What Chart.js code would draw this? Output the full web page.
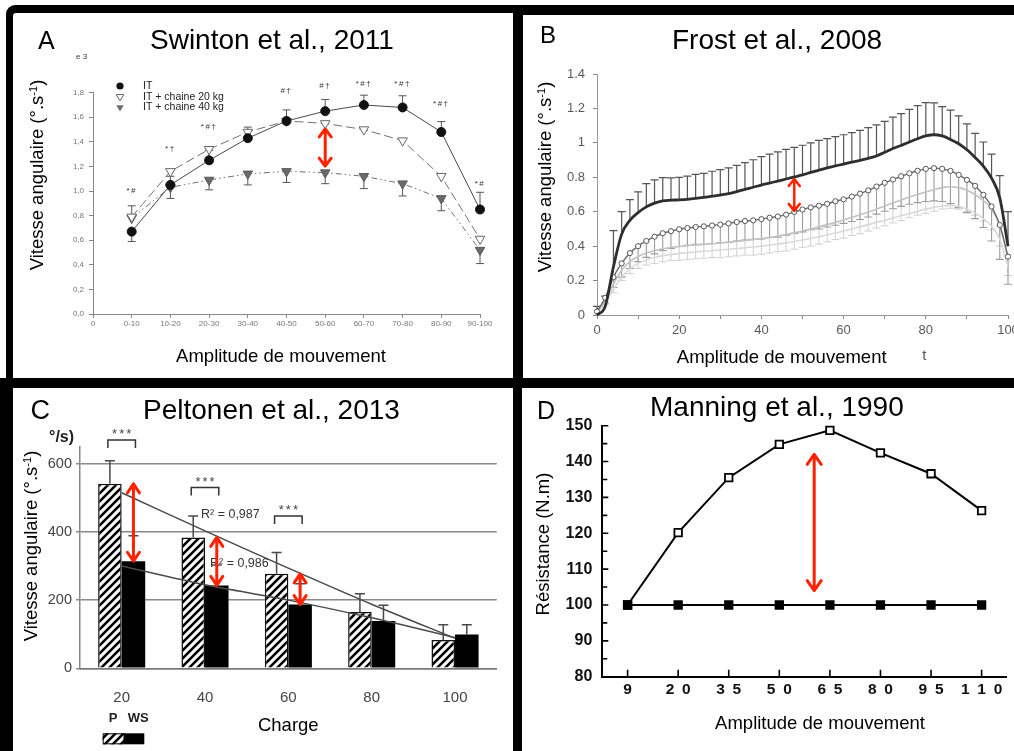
<!DOCTYPE html>
<html>
<head>
<meta charset="utf-8">
<script src="https://cdn.jsdelivr.net/npm/chart.js@4.4.1/dist/chart.umd.min.js"></script>
<style>
  html, body { margin: 0; padding: 0; width: 1014px; height: 751px; overflow: hidden; background: #fff;
    font-family: "Liberation Sans", Arial, Helvetica, sans-serif; }
  .frame { position: absolute; background: #000; }
  .panel { position: absolute; background: #fff; overflow: hidden; }
  .panel canvas { position: absolute; left: 0; top: 0; }
  .txt { position: absolute; white-space: nowrap; line-height: 1; color: #000; }
  .ctr { transform: translate(-50%, -50%); }
  .rot { transform: translate(-50%, -50%) rotate(-90deg); }
  sup { font-size: 0.6em; vertical-align: 0.55em; line-height: 0; }
</style>
</head>
<body>
<div class="frame" style="left:6px;top:5px;width:1008px;height:385px;border-top-left-radius:9px"></div>
<div class="frame" style="left:0;top:378px;width:1014px;height:373px"></div>

<div class="panel" style="left:13px;top:13px;width:500px;height:365px;border-top-left-radius:3px"><canvas id="chartA" width="500" height="365"></canvas></div>
<div class="panel" style="left:523px;top:15px;width:491px;height:363px"><canvas id="chartB" width="520" height="363"></canvas></div>
<div class="panel" style="left:13px;top:388px;width:500px;height:363px"><canvas id="chartC" width="500" height="363"></canvas></div>
<div class="panel" style="left:522px;top:388px;width:492px;height:363px"><canvas id="chartD" width="492" height="363"></canvas></div>

<!-- panel letters and titles -->
<div class="txt" style="left:38px;top:27.8px;font-size:25px">A</div>
<div class="txt" style="left:150px;top:26.3px;font-size:28px">Swinton et al., 2011</div>
<div class="txt" style="left:540px;top:22.7px;font-size:24px">B</div>
<div class="txt" style="left:672px;top:26.3px;font-size:28px">Frost et al., 2008</div>
<div class="txt" style="left:30.5px;top:397px;font-size:27px">C</div>
<div class="txt" style="left:143px;top:396.3px;font-size:28px">Peltonen et al., 2013</div>
<div class="txt" style="left:537px;top:397.8px;font-size:25px">D</div>
<div class="txt" style="left:650px;top:393px;font-size:28px">Manning et al., 1990</div>

<!-- axis titles -->
<div class="txt rot" style="left:37px;top:175px;font-size:18.5px">Vitesse angulaire (°.s<sup>-1</sup>)</div>
<div class="txt ctr" style="left:281px;top:356px;font-size:18.5px">Amplitude de mouvement</div>
<div class="txt rot" style="left:545px;top:176.7px;font-size:18.5px">Vitesse angulaire (°.s<sup>-1</sup>)</div>
<div class="txt ctr" style="left:781.7px;top:357px;font-size:18.5px">Amplitude de mouvement</div>
<div class="txt rot" style="left:31px;top:545.8px;font-size:18.5px">Vitesse angulaire (°.s<sup>-1</sup>)</div>
<div class="txt ctr" style="left:288.3px;top:725px;font-size:18.5px">Charge</div>
<div class="txt rot" style="left:543px;top:544px;font-size:18.5px">Résistance (N.m)</div>
<div class="txt ctr" style="left:820px;top:723px;font-size:18.5px">Amplitude de mouvement</div>

<!-- small leftover labels of the source figures -->
<div class="txt" style="left:76px;top:53px;font-size:8px;color:#334">e 3</div>
<div class="txt ctr" style="left:924.3px;top:354px;font-size:15px;color:#555">t</div>
<div class="txt" style="left:49px;top:429px;font-size:16px;font-weight:bold;color:#222">°/s)</div>

<script>
// ---------- Panel A: Swinton et al., 2011 ----------
const swintonXTicks = ['0', '0-10', '10-20', '20-30', '30-40', '40-50', '50-60', '60-70', '70-80', '80-90', '90-100'];
const swintonSeries = ['IT', 'IT + chaine 20 kg', 'IT + chaine 40 kg'];
const swintonIT      = [0.67, 1.05, 1.25, 1.43, 1.57, 1.65, 1.70, 1.68, 1.48, 0.85];
const swintonChain20 = [0.79, 1.16, 1.34, 1.48, 1.57, 1.55, 1.50, 1.41, 1.12, 0.61];
const swintonChain40 = [0.78, 1.03, 1.09, 1.14, 1.16, 1.15, 1.12, 1.06, 0.94, 0.52];
// signed SD: positive drawn above the mean, negative below
const swintonITErr      = [-0.08, 0.07, 0.08, 0.09, 0.09, 0.095, 0.08, 0.095, 0.085, 0.14];
const swintonChain40Err = [0.10, -0.09, -0.08, -0.09, -0.09, -0.09, -0.10, -0.10, -0.10, -0.11];
const swintonSigText  = ['*#', '*†', '*#†', '', '#†', '#†', '*#†', '*#†', '*#†', '*#'];
const swintonSigLevel = [1.00, 1.34, 1.52, null, 1.815, 1.854, 1.876, 1.876, 1.707, 1.063];

// ---------- Panel B: Frost et al., 2008 ----------
const frostX = [0,2,4,6,8,10,12,14,16,18,20,22,24,26,28,30,32,34,36,38,40,42,44,46,48,50,
                52,54,56,58,60,62,64,66,68,70,72,74,76,78,80,82,84,86,88,90,92,94,96,98,100];
const frostDark = [0.00,0.05,0.28,0.47,0.55,0.595,0.628,0.650,0.663,0.667,
                   0.669,0.672,0.677,0.683,0.690,0.697,0.705,0.717,0.730,0.742,
                   0.755,0.766,0.778,0.790,0.802,0.814,0.828,0.842,0.855,0.866,
                   0.877,0.888,0.898,0.910,0.924,0.945,0.967,0.985,1.005,1.024,
                   1.040,1.047,1.040,1.020,0.995,0.960,0.915,0.865,0.795,0.680,
                   0.400];
const frostDarkSD = [0.05,0.06,0.21,0.13,0.12,0.12,0.135,0.135,0.135,0.13,
                     0.13,0.135,0.14,0.14,0.145,0.148,0.15,0.152,0.155,0.16,
                     0.165,0.168,0.17,0.172,0.172,0.172,0.172,0.172,0.17,0.17,
                     0.17,0.172,0.175,0.178,0.18,0.18,0.182,0.185,0.19,0.192,
                     0.194,0.185,0.17,0.17,0.162,0.15,0.14,0.14,0.14,0.13,
                     0.2];
const frostCircle = [0.02,0.10,0.22,0.30,0.36,0.40,0.43,0.455,0.475,0.487,
                     0.498,0.505,0.511,0.515,0.52,0.525,0.532,0.54,0.546,0.55,
                     0.557,0.565,0.572,0.583,0.599,0.613,0.625,0.635,0.646,0.661,
                     0.672,0.688,0.705,0.724,0.746,0.768,0.787,0.806,0.823,0.838,
                     0.849,0.853,0.849,0.837,0.814,0.785,0.75,0.698,0.63,0.523,
                     0.339];
const frostCircleSD = [0,0.03,0.06,0.08,0.09,0.09,0.095,0.1,0.1,0.1,
                       0.1,0.1,0.1,0.105,0.105,0.105,0.11,0.11,0.11,0.11,
                       0.115,0.115,0.12,0.12,0.125,0.13,0.13,0.135,0.135,0.14,
                       0.14,0.145,0.15,0.155,0.16,0.165,0.17,0.175,0.18,0.185,
                       0.19,0.19,0.19,0.19,0.19,0.19,0.19,0.19,0.2,0.2,
                       0.16];
const frostLight1 = [0.02,0.08,0.18,0.26,0.31,0.34,0.36,0.375,0.385,0.392,
                     0.398,0.403,0.407,0.41,0.414,0.418,0.423,0.428,0.433,0.438,
                     0.443,0.45,0.458,0.467,0.477,0.488,0.5,0.512,0.525,0.538,
                     0.552,0.567,0.582,0.598,0.615,0.633,0.65,0.668,0.685,0.70,
                     0.715,0.728,0.74,0.745,0.74,0.725,0.70,0.665,0.615,0.52,
                     0.33];
const frostLight1SD = [0,0.02,0.05,0.06,0.07,0.07,0.07,0.075,0.075,0.075,
                       0.08,0.08,0.08,0.08,0.08,0.085,0.085,0.085,0.085,0.09,
                       0.09,0.09,0.09,0.095,0.095,0.095,0.1,0.1,0.1,0.1,
                       0.105,0.105,0.11,0.11,0.11,0.115,0.115,0.12,0.12,0.12,
                       0.125,0.125,0.125,0.125,0.125,0.125,0.12,0.12,0.12,0.12,
                       0.1];
const frostLight2 = [0.01,0.07,0.15,0.22,0.27,0.30,0.32,0.335,0.345,0.352,
                     0.358,0.362,0.366,0.37,0.374,0.378,0.382,0.386,0.39,0.395,
                     0.40,0.406,0.412,0.419,0.427,0.436,0.445,0.455,0.465,0.476,
                     0.488,0.50,0.512,0.525,0.538,0.55,0.563,0.576,0.589,0.602,
                     0.615,0.625,0.633,0.636,0.63,0.615,0.592,0.56,0.515,0.44,
                     0.28];
const frostArrowAt = 48;

// ---------- Panel C: Peltonen et al., 2013 ----------
const peltonenLoads = ['20', '40', '60', '80', '100'];
const peltonenSeries = ['P', 'WS'];
const peltonenP     = [541, 384, 277, 165, 83];
const peltonenWS    = [314, 243, 187, 139, 99];
const peltonenPErr  = [68, 63, 63, 54, 45];
const peltonenWSErr = [75, 60, 61, 46, 29];
const peltonenFitP  = [515, 403, 294, 188, 88];
const peltonenFitWS = [300, 245, 200, 148, 90];
const peltonenSigCats  = [0, 1, 2];
const peltonenSigLevel = [670, 530, 447];
const peltonenFitText  = ['R² = 0,987', 'R² = 0,986'];
const peltonenFitLevel = [450, 307];

// ---------- Panel D: Manning et al., 1990 ----------
const manningAngles = ['9', '20', '35', '50', '65', '80', '95', '110'];
const manningVariable = [100, 120.2, 135.5, 144.8, 148.7, 142.4, 136.6, 126.3];
const manningConstant = [100, 100, 100, 100, 100, 100, 100, 100];
const manningArrow = { at: 3.69, from: 142, to: 104 };

// ---------- shared drawing helpers ----------
Chart.defaults.font.family = '"Liberation Sans", Arial, Helvetica, sans-serif';
const ARROW_RED = '#ff2200';

function drawErrorBars(chart, dsIndex, errs, dir, color, width, cap) {
  const ctx = chart.ctx, yScale = chart.scales.y;
  const meta = chart.getDatasetMeta(dsIndex);
  const raw = chart.data.datasets[dsIndex].data;
  ctx.save();
  ctx.strokeStyle = color; ctx.lineWidth = width;
  ctx.beginPath();
  meta.data.forEach((el, i) => {
    const e = errs[i];
    if (!e) return;
    const v = (typeof raw[i] === 'object') ? raw[i].y : raw[i];
    const yEnd = yScale.getPixelForValue(v + e * dir);
    ctx.moveTo(el.x, el.y); ctx.lineTo(el.x, yEnd);
    ctx.moveTo(el.x - cap / 2, yEnd); ctx.lineTo(el.x + cap / 2, yEnd);
  });
  ctx.stroke();
  ctx.restore();
}

function drawDoubleArrow(ctx, x, yTop, yBottom, lw, headW, headH) {
  ctx.save();
  ctx.strokeStyle = ARROW_RED; ctx.lineWidth = lw;
  ctx.lineCap = 'round'; ctx.lineJoin = 'round';
  ctx.beginPath();
  ctx.moveTo(x, yTop + 1); ctx.lineTo(x, yBottom - 1);
  ctx.moveTo(x - headW / 2, yTop + headH); ctx.lineTo(x, yTop); ctx.lineTo(x + headW / 2, yTop + headH);
  ctx.moveTo(x - headW / 2, yBottom - headH); ctx.lineTo(x, yBottom); ctx.lineTo(x + headW / 2, yBottom - headH);
  ctx.stroke();
  ctx.restore();
}

function triangleDown(ctx, x, y, r) {
  ctx.beginPath();
  let a = Math.PI;
  ctx.moveTo(x + Math.sin(a) * r, y - Math.cos(a) * r);
  a += 2 * Math.PI / 3;
  ctx.lineTo(x + Math.sin(a) * r, y - Math.cos(a) * r);
  a += 2 * Math.PI / 3;
  ctx.lineTo(x + Math.sin(a) * r, y - Math.cos(a) * r);
  ctx.closePath();
}

const baseOptions = {
  responsive: false,
  animation: false,
  devicePixelRatio: 1,
  events: [],
  plugins: { legend: { display: false }, tooltip: { enabled: false } }
};

// ---------- Chart A ----------
const swintonDecor = {
  id: 'swintonDecor',
  beforeDatasetsDraw(chart) {
    drawErrorBars(chart, 0, swintonITErr, 1, '#555', 1, 8);
    drawErrorBars(chart, 2, swintonChain40Err, 1, '#555', 1, 8);
  },
  afterDatasetsDraw(chart) {
    const { ctx, chartArea: ca, scales: { x, y } } = chart;
    ctx.save();
    // significance symbols
    ctx.fillStyle = '#333';
    ctx.font = '8px "Liberation Sans", Arial';
    ctx.textAlign = 'center'; ctx.textBaseline = 'middle';
    try { ctx.letterSpacing = '1.5px'; } catch (e) {}
    swintonSigText.forEach((t, i) => {
      if (!t) return;
      ctx.fillText(t, x.getPixelForValue(i + 1), y.getPixelForValue(swintonSigLevel[i]));
    });
    try { ctx.letterSpacing = '0px'; } catch (e) {}
    // legend
    const mx = ca.left + 27, tx = ca.left + 50;
    const rows = [ca.top - 6.7, ca.top + 4, ca.top + 14.6];
    ctx.fillStyle = '#111';
    ctx.beginPath(); ctx.arc(mx, rows[0], 3.6, 0, Math.PI * 2); ctx.fill();
    ctx.strokeStyle = '#666'; ctx.lineWidth = 1;
    ctx.fillStyle = '#fff'; triangleDown(ctx, mx, rows[1], 4.3); ctx.fill(); ctx.stroke();
    ctx.fillStyle = '#6a6a6a'; triangleDown(ctx, mx, rows[2], 4.3); ctx.fill();
    ctx.fillStyle = '#222';
    ctx.font = '10.5px "Liberation Sans", Arial';
    ctx.textAlign = 'left';
    swintonSeries.forEach((s, i) => ctx.fillText(s, tx, rows[i]));
    ctx.restore();
    // gap between chain 20 kg and chain 40 kg at 50-60
    drawDoubleArrow(ctx, x.getPixelForValue(6),
      y.getPixelForValue(swintonChain20[5]) + 5.5,
      y.getPixelForValue(swintonChain40[5]) - 6.5, 3, 12, 8);
  }
};

const toPoints = arr => arr.map((v, i) => ({ x: i + 1, y: v }));

new Chart(document.getElementById('chartA'), {
  type: 'line',
  data: {
    datasets: [
      { label: swintonSeries[0], data: toPoints(swintonIT), borderColor: '#4a4a4a', borderWidth: 1,
        pointStyle: 'circle', pointRadius: 4.5, pointBackgroundColor: '#111', pointBorderColor: '#111', clip: false },
      { label: swintonSeries[1], data: toPoints(swintonChain20), borderColor: '#707070', borderWidth: 1,
        borderDash: [9, 4], pointStyle: 'triangle', pointRotation: 180, pointRadius: 5.5,
        pointBackgroundColor: '#fff', pointBorderColor: '#666', pointBorderWidth: 1, clip: false },
      { label: swintonSeries[2], data: toPoints(swintonChain40), borderColor: '#707070', borderWidth: 1,
        borderDash: [6, 3, 1.5, 3, 1.5, 3], pointStyle: 'triangle', pointRotation: 180, pointRadius: 5.5,
        pointBackgroundColor: '#6a6a6a', pointBorderColor: '#5a5a5a', pointBorderWidth: 1, clip: false }
    ]
  },
  options: Object.assign({}, baseOptions, {
    layout: { padding: { left: 40, right: 33, top: 79.7, bottom: 44 } },
    scales: {
      x: {
        type: 'linear', min: 0, max: 10,
        ticks: { stepSize: 1, autoSkip: false, maxRotation: 0, padding: 1, color: '#777',
                 font: { size: 8 }, callback: v => swintonXTicks[v] },
        grid: { drawOnChartArea: false, tickLength: 4, color: '#888' },
        border: { color: '#888' },
        afterFit: s => { s.height = 20; }
      },
      y: {
        min: 0, max: 1.8,
        ticks: { stepSize: 0.2, padding: 5, color: '#777', font: { size: 8 },
                 callback: v => v.toFixed(1).replace('.', ',') },
        grid: { drawOnChartArea: false, tickLength: 4, color: '#888' },
        border: { color: '#888' },
        afterFit: s => { s.width = 40; }
      }
    }
  }),
  plugins: [swintonDecor]
});

// ---------- Chart B ----------
const frostDecor = {
  id: 'frostDecor',
  beforeDatasetsDraw(chart) {
    drawErrorBars(chart, 2, frostLight1SD, -1, '#d0d0d0', 1, 8);
    drawErrorBars(chart, 1, frostCircleSD, -1, '#9c9c9c', 1.1, 8);
    drawErrorBars(chart, 0, frostDarkSD, 1, '#555', 1.2, 8);
  },
  afterDatasetsDraw(chart) {
    const { ctx, scales: { x, y } } = chart;
    const i = frostX.indexOf(frostArrowAt);
    drawDoubleArrow(ctx, x.getPixelForValue(frostArrowAt),
      y.getPixelForValue(frostDark[i]) + 2,
      y.getPixelForValue(frostCircle[i]) - 1, 2.5, 11, 7);
  }
};

const frostPts = arr => frostX.map((xv, i) => ({ x: xv, y: arr[i] }));

new Chart(document.getElementById('chartB'), {
  type: 'line',
  data: {
    datasets: [
      { data: frostPts(frostDark), borderColor: '#2e2e2e', borderWidth: 2.8, pointRadius: 0,
        cubicInterpolationMode: 'monotone', clip: 6 },
      { data: frostPts(frostCircle), borderColor: '#6a6a6a', borderWidth: 1.4, pointRadius: 2.6,
        pointBackgroundColor: '#fff', pointBorderColor: '#555', pointBorderWidth: 1,
        cubicInterpolationMode: 'monotone', clip: 6 },
      { data: frostPts(frostLight1), borderColor: '#c2c2c2', borderWidth: 1.6, pointRadius: 0,
        cubicInterpolationMode: 'monotone', clip: 6 },
      { data: frostPts(frostLight2), borderColor: '#dadada', borderWidth: 1.6, pointRadius: 0,
        cubicInterpolationMode: 'monotone', clip: 6 }
    ]
  },
  options: Object.assign({}, baseOptions, {
    layout: { padding: { left: 34, right: 35, top: 59, bottom: 39 } },
    scales: {
      x: {
        type: 'linear', min: 0, max: 100,
        ticks: { stepSize: 10, autoSkip: false, maxRotation: 0, padding: 4, color: '#5a5a5a',
                 font: { size: 13 }, callback: v => (v % 20 === 0 ? String(v) : '') },
        grid: { drawOnChartArea: false, tickLength: 4, color: '#888' },
        border: { color: '#999' },
        afterFit: s => { s.height = 24; }
      },
      y: {
        min: 0, max: 1.4,
        ticks: { stepSize: 0.2, padding: 8, color: '#5a5a5a', font: { size: 13 },
                 callback: v => String(Math.round(v * 10) / 10) },
        grid: { drawOnChartArea: false, tickLength: 4, color: '#888' },
        border: { color: '#999' },
        afterFit: s => { s.width = 40; }
      }
    }
  }),
  plugins: [frostDecor]
});

// ---------- Chart C ----------
const ctxC = document.getElementById('chartC').getContext('2d');
function makeHatch(target) {
  const tile = document.createElement('canvas');
  tile.width = 8; tile.height = 8;
  const g = tile.getContext('2d');
  g.fillStyle = '#fff'; g.fillRect(0, 0, 8, 8);
  g.strokeStyle = '#000'; g.lineWidth = 2.6;
  g.beginPath();
  g.moveTo(-1, 9); g.lineTo(9, -1);
  g.moveTo(-5, 5); g.lineTo(5, -5);
  g.moveTo(3, 13); g.lineTo(13, 3);
  g.stroke();
  return target.createPattern(tile, 'repeat');
}
const hatch = makeHatch(ctxC);

const peltonenDecor = {
  id: 'peltonenDecor',
  afterDatasetsDraw(chart) {
    const { ctx, chartArea: ca, scales: { x, y } } = chart;
    drawErrorBars(chart, 0, peltonenPErr, 1, '#4a4a4a', 1.5, 10);
    drawErrorBars(chart, 1, peltonenWSErr, 1, '#4a4a4a', 1.5, 10);
    const pMeta = chart.getDatasetMeta(0), wMeta = chart.getDatasetMeta(1);

    ctx.save();
    // significance brackets
    ctx.strokeStyle = '#333'; ctx.lineWidth = 1.5;
    ctx.fillStyle = '#444';
    ctx.font = '13px "Liberation Sans", Arial';
    ctx.textAlign = 'center'; ctx.textBaseline = 'middle';
    peltonenSigCats.forEach((c, j) => {
      const x1 = pMeta.data[c].x - 2, x2 = wMeta.data[c].x + 2;
      const yb = y.getPixelForValue(peltonenSigLevel[j]);
      ctx.beginPath();
      ctx.moveTo(x1, yb + 8); ctx.lineTo(x1, yb); ctx.lineTo(x2, yb); ctx.lineTo(x2, yb + 8);
      ctx.stroke();
      try { ctx.letterSpacing = '2px'; } catch (e) {}
      ctx.fillText('***', (x1 + x2) / 2 + 1, yb - 5);
      try { ctx.letterSpacing = '0px'; } catch (e) {}
    });
    // fit quality labels
    ctx.fillStyle = '#333';
    ctx.font = '12.5px "Liberation Sans", Arial';
    ctx.textAlign = 'left';
    ctx.fillText(peltonenFitText[0], x.getPixelForValue(1) - 4, y.getPixelForValue(peltonenFitLevel[0]));
    ctx.fillText(peltonenFitText[1], x.getPixelForValue(1) + 5, y.getPixelForValue(peltonenFitLevel[1]));
    ctx.restore();

    // P vs WS gaps
    [0, 1, 2].forEach(k => {
      drawDoubleArrow(ctx, wMeta.data[k].x,
        y.getPixelForValue(peltonenP[k]), y.getPixelForValue(peltonenWS[k]), 3, 12, 9);
    });

    // legend
    ctx.save();
    const lx = ca.left + 22.7, ly = ca.bottom + 65;
    ctx.fillStyle = hatch; ctx.fillRect(lx, ly, 21.3, 11);
    ctx.strokeStyle = '#000'; ctx.lineWidth = 1; ctx.strokeRect(lx + 0.5, ly + 0.5, 20.8, 10);
    ctx.fillStyle = '#000'; ctx.fillRect(lx + 21.3, ly, 20.3, 11);
    ctx.fillStyle = '#222';
    ctx.font = 'bold 13px "Liberation Sans", Arial';
    ctx.textAlign = 'center'; ctx.textBaseline = 'middle';
    ctx.fillText(peltonenSeries[0], ca.left + 33, ca.bottom + 50);
    ctx.fillText(peltonenSeries[1], ca.left + 58.3, ca.bottom + 50);
    ctx.restore();
  }
};

new Chart(ctxC, {
  type: 'bar',
  data: {
    labels: peltonenLoads,
    datasets: [
      { type: 'bar', label: peltonenSeries[0], data: peltonenP, backgroundColor: hatch,
        borderColor: '#111', borderWidth: 1.5, categoryPercentage: 0.565, barPercentage: 1, order: 1 },
      { type: 'bar', label: peltonenSeries[1], data: peltonenWS, backgroundColor: '#000',
        borderColor: '#000', borderWidth: 0, categoryPercentage: 0.565, barPercentage: 1, order: 1 },
      { type: 'line', data: peltonenFitP, borderColor: '#4a4a4a', borderWidth: 1.5, pointRadius: 0,
        tension: 0.3, order: 0 },
      { type: 'line', data: peltonenFitWS, borderColor: '#4a4a4a', borderWidth: 1.5, pointRadius: 0,
        tension: 0.3, order: 0 }
    ]
  },
  options: Object.assign({}, baseOptions, {
    layout: { padding: { left: 22, right: 16.3, top: 58.7, bottom: 32.7 } },
    scales: {
      x: {
        ticks: { padding: 21, color: '#444', font: { size: 15 } },
        grid: { display: false, drawTicks: false },
        border: { display: true, color: '#777', width: 1.5 },
        afterFit: s => { s.height = 50; }
      },
      y: {
        min: 0, max: 650,
        ticks: { stepSize: 200, padding: 4, color: '#444', font: { size: 14.5 } },
        afterBuildTicks: s => { s.ticks = s.ticks.filter(t => t.value % 200 === 0); },
        grid: { color: '#888', lineWidth: 1.5, tickLength: 4 },
        border: { display: true, color: '#888', width: 1.5 },
        afterFit: s => { s.width = 45; }
      }
    }
  }),
  plugins: [peltonenDecor]
});

// ---------- Chart D ----------
const manningDecor = {
  id: 'manningDecor',
  afterDraw(chart) {
    const { ctx, chartArea: ca, scales: { x, y } } = chart;
    ctx.save();
    ctx.strokeStyle = '#000'; ctx.lineWidth = 1.6;
    ctx.beginPath();
    const vals = y.ticks.map(t => t.value);
    vals.forEach((v, i) => {
      const py = y.getPixelForValue(v);
      ctx.moveTo(ca.left, py); ctx.lineTo(ca.left + 6, py);
      if (i < vals.length - 1) {
        const pm = y.getPixelForValue((v + vals[i + 1]) / 2);
        ctx.moveTo(ca.left, pm); ctx.lineTo(ca.left + 5, pm);
      }
    });
    x.ticks.forEach(t => {
      const px = x.getPixelForValue(t.value);
      ctx.moveTo(px, ca.bottom); ctx.lineTo(px, ca.bottom - 7);
    });
    ctx.stroke();
    ctx.restore();
    drawDoubleArrow(ctx, x.getPixelForValue(manningArrow.at),
      y.getPixelForValue(manningArrow.from), y.getPixelForValue(manningArrow.to), 3, 14, 10);
  }
};

new Chart(document.getElementById('chartD'), {
  type: 'line',
  data: {
    labels: manningAngles,
    datasets: [
      { data: manningConstant, borderColor: '#000', borderWidth: 1.8, pointStyle: 'rect', pointRadius: 5.3,
        pointBackgroundColor: '#000', pointBorderColor: '#000', tension: 0, clip: false },
      { data: manningVariable, borderColor: '#000', borderWidth: 2, pointStyle: 'rect', pointRadius: 5.3,
        pointBackgroundColor: '#fff', pointBorderColor: '#000', pointBorderWidth: 1.8, tension: 0, clip: false }
    ]
  },
  options: Object.assign({}, baseOptions, {
    layout: { padding: { left: 40.3, right: 7, top: 37.7, bottom: 49.3 } },
    scales: {
      x: {
        offset: true,
        ticks: { padding: 4, color: '#111', font: { size: 15.5, weight: 'bold' }, autoSkip: false, maxRotation: 0,
                 callback: (v, i) => manningAngles[i].split('').join('\u2002') },
        grid: { display: false, drawTicks: false },
        border: { display: true, color: '#000', width: 2 },
        afterFit: s => { s.height = 25; }
      },
      y: {
        min: 80, max: 150,
        ticks: { stepSize: 10, padding: 10, color: '#111', font: { size: 16, weight: 'bold' } },
        grid: { display: false, drawTicks: false },
        border: { display: true, color: '#000', width: 2 },
        afterFit: s => { s.width = 40; }
      }
    }
  }),
  plugins: [manningDecor]
});
</script>
</body>
</html>
